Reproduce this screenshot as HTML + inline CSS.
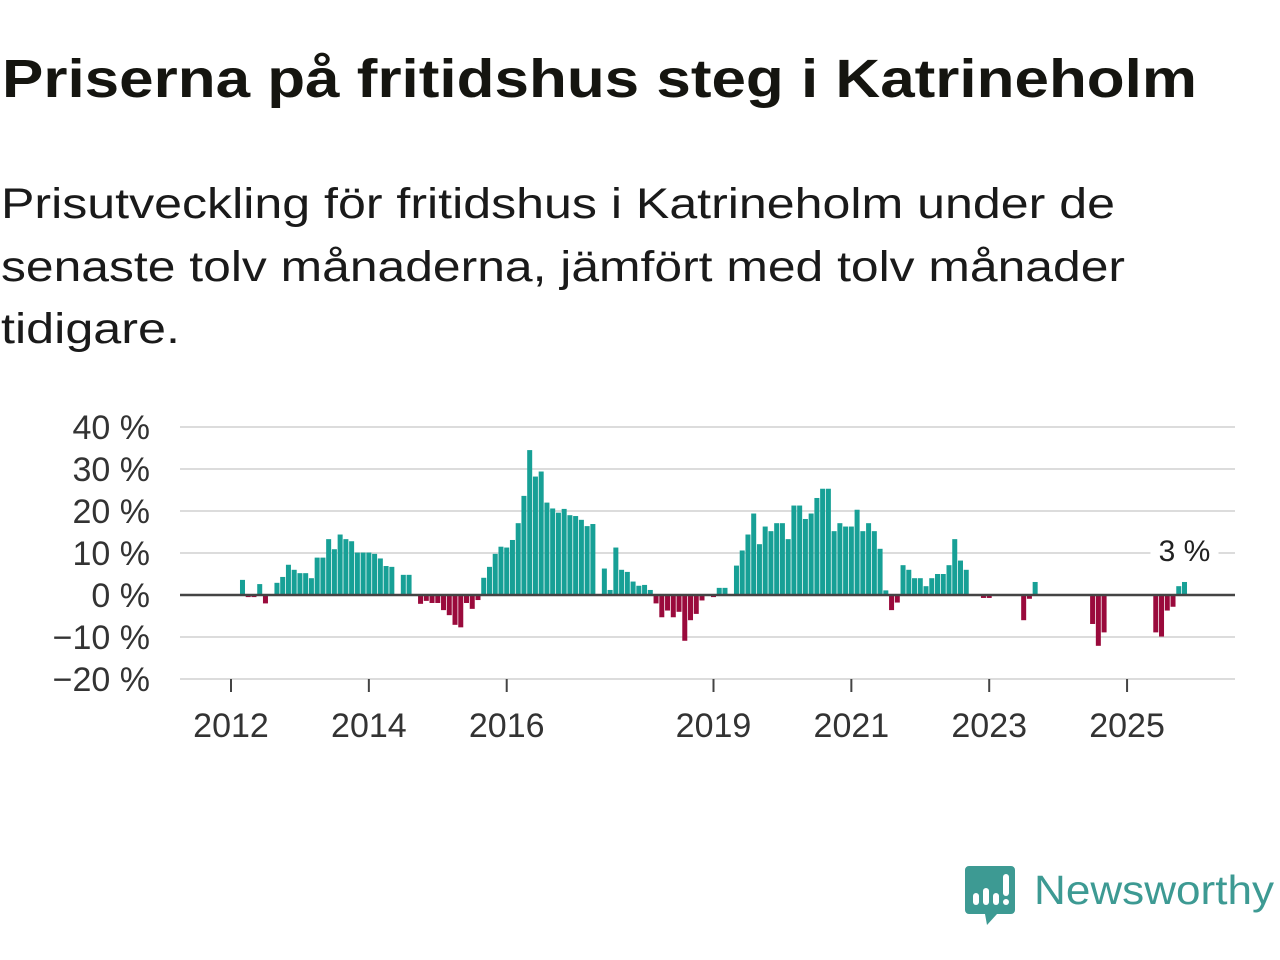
<!DOCTYPE html>
<html><head><meta charset="utf-8"><style>
html,body{margin:0;padding:0;background:#fff;width:1280px;height:960px;overflow:hidden}
body{font-family:"Liberation Sans","DejaVu Sans",sans-serif;color:#111}
svg{position:absolute;left:0;top:0}
</style></head><body>
<svg width="1280" height="400">
  <text x="2" y="97" font-size="54" font-weight="bold" fill="#151510" textLength="1195" lengthAdjust="spacingAndGlyphs" font-family="Liberation Sans, sans-serif">Priserna på fritidshus steg i Katrineholm</text>
  <g font-size="43" fill="#1a1a1a" font-family="Liberation Sans, sans-serif">
    <text x="1" y="218" textLength="1114" lengthAdjust="spacingAndGlyphs">Prisutveckling för fritidshus i Katrineholm under de</text>
    <text x="1" y="281" textLength="1124" lengthAdjust="spacingAndGlyphs">senaste tolv månaderna, jämfört med tolv månader</text>
    <text x="1" y="343" textLength="179" lengthAdjust="spacingAndGlyphs">tidigare.</text>
  </g>
</svg>
<svg id="chart" width="1280" height="960"></svg>
<script>
// monthly values from Jan 2012 (index 0); null = no bar
const values = [null,null,3.6,-0.5,-0.5,2.6,-2.0,null,2.9,4.3,7.2,6.0,
5.2,5.2,4.0,8.9,8.9,13.3,10.9,14.4,13.3,12.8,10.1,10.1,
10.1,9.8,8.7,6.9,6.7,null,4.8,4.8,null,-2.1,-1.4,-1.9,
-1.9,-3.6,-4.8,-7.1,-7.7,-1.9,-3.3,-1.2,4.1,6.7,9.8,11.5,
11.3,13.1,17.1,23.6,34.5,28.2,29.4,22.0,20.6,19.6,20.5,19.0,
18.8,17.9,16.4,16.9,null,6.3,1.2,11.3,6.0,5.5,3.2,2.2,
2.4,1.2,-2.0,-5.3,-3.7,-5.3,-4.0,-10.9,-6.0,-4.5,-1.3,null,
-0.5,1.7,1.7,null,7.0,10.6,14.4,19.4,12.1,16.3,15.2,17.1,
17.1,13.3,21.3,21.3,18.1,19.4,23.1,25.3,25.3,15.2,17.1,16.3,
16.3,20.3,15.2,17.1,15.2,11.0,1.1,-3.6,-1.8,7.1,6.0,4.0,
4.0,2.1,4.0,5.0,5.0,7.1,13.3,8.2,6.0,null,null,-0.7,
-0.7,null,null,null,null,null,-6.0,-0.9,3.1,null,null,null,
null,null,null,null,null,null,-6.9,-12.1,-8.9,null,null,null,
null,null,null,null,null,-8.9,-9.9,-3.7,-2.8,2.1,3.1];
const yTicks = [40,30,20,10,0,-10,-20];
const xTickYears = [2012,2014,2016,2019,2021,2023,2025];
const lastLabel = "3 %";

const svg = document.getElementById('chart');
const NS = 'http://www.w3.org/2000/svg';
const y = v => 595 - v * 4.2;
const xm = i => 231 + i * 5.744;
const xYear = yr => xm((yr - 2012) * 12);
function mk(tag, attrs){const e=document.createElementNS(NS,tag);for(const k in attrs)e.setAttribute(k,attrs[k]);svg.appendChild(e);return e;}

yTicks.forEach(t=>{
  if(t!==0){const g=mk('line',{x1:180,x2:1235,y1:y(t),y2:y(t),stroke:'#dcdcdc','stroke-width':2});
  
  }
  const l=mk('text',{x:150,y:y(t)+12,'text-anchor':'end','font-size':34,fill:'#333','font-family':'Liberation Sans, sans-serif'});
  l.textContent=(t<0?'\u2212'+(-t):t)+' %';
  
  
});
xTickYears.forEach(yr=>{
  const x=xYear(yr);
  const tk=mk('line',{x1:x,x2:x,y1:679,y2:692,stroke:'#444','stroke-width':2});
  
  
  const l=mk('text',{x:x,y:737,'text-anchor':'middle','font-size':34,fill:'#333','font-family':'Liberation Sans, sans-serif'});
  l.textContent=yr;
  
  
});
values.forEach((v,i)=>{
  if(v===null) return;
  const cx=xm(i);
  const b=mk('rect',{x:cx-2.5,width:5,y:v>=0?y(v):y(0),height:Math.abs(y(v)-y(0)),fill:v>=0?'#17a096':'#9a0a3c'});
  
  
});
const z=mk('line',{x1:180,x2:1235,y1:y(0),y2:y(0),stroke:'#444','stroke-width':2.5});


let li=values.length-1;
const bg=mk('rect',{x:xm(li)-34,y:535,width:68,height:34,fill:'#fff'});


const ll=mk('text',{x:xm(li),y:561,'text-anchor':'middle','font-size':30,fill:'#222','font-family':'Liberation Sans, sans-serif'});
ll.textContent=lastLabel;


</script>
<svg width="1280" height="960" style="pointer-events:none">
  <path d="M969 866 h42 a4 4 0 0 1 4 4 v40 a4 4 0 0 1 -4 4 h-14 l-10 11 l-2 -11 h-16 a4 4 0 0 1 -4 -4 v-40 a4 4 0 0 1 4 -4z" fill="#3d9a93"/>
  <rect x="973" y="893" width="6" height="12" rx="3" fill="#fff"/>
  <rect x="983" y="888" width="6" height="17" rx="3" fill="#fff"/>
  <rect x="993" y="893" width="6" height="12" rx="3" fill="#fff"/>
  <rect x="1003" y="874" width="6" height="22" rx="3" fill="#fff"/>
  <circle cx="1006" cy="902" r="3" fill="#fff"/>
  <text x="1034" y="904" font-size="41" fill="#3d9a93" textLength="240" lengthAdjust="spacingAndGlyphs" font-family="Liberation Sans, sans-serif">Newsworthy</text>
</svg>
</body></html>
